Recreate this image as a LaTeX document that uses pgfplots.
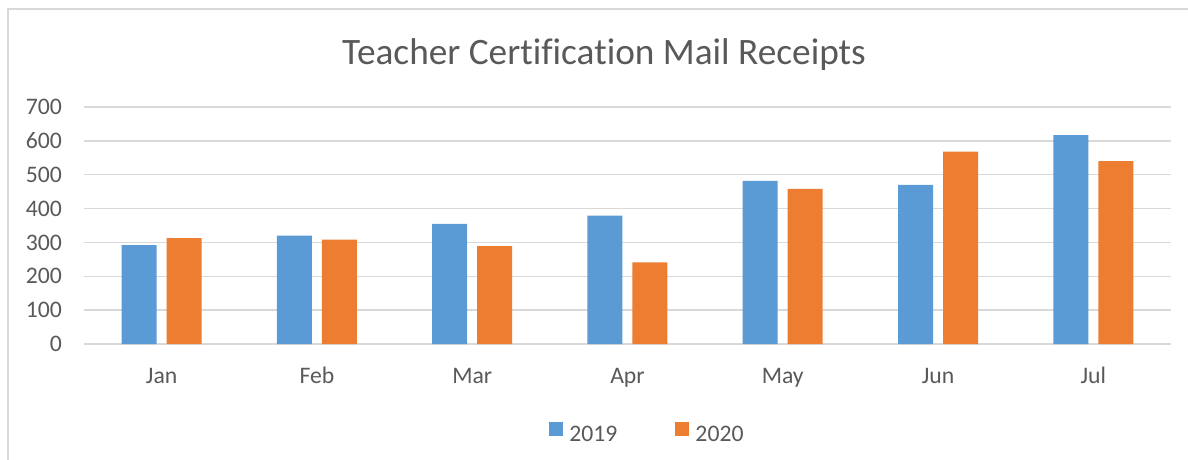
\documentclass[border=0pt]{standalone}
\usepackage{fontspec}
\setmainfont{Carlito}[Ligatures={NoCommon}]
\usepackage{pgfplots}
\pgfplotsset{compat=1.18}
\definecolor{cblue}{HTML}{5B9BD5}
\definecolor{corange}{HTML}{ED7D31}
\definecolor{cgrid}{HTML}{D9D9D9}
\definecolor{ctext}{HTML}{595959}
\begin{document}
\begin{tikzpicture}[x=1pt,y=1pt]
\useasboundingbox (0,0) rectangle (1188,-460);
\draw[cgrid, line width=1.2pt] (8,-460) -- (8,-9) -- (1188,-9);
\node[anchor=base, text=ctext, font=\fontsize{37.3}{44}\selectfont, inner sep=0pt] at (604,-64) {Teacher Certification Mail Receipts};
\begin{axis}[
  at={(84pt,-344pt)}, anchor=south west,
  width=1087pt, height=237pt, scale only axis,
  xmin=-0.5, xmax=6.5, ymin=0, ymax=700,
  ybar, bar width=35pt,
  xtick={0,1,2,3,4,5,6},
  xticklabels={Jan,Feb,Mar,Apr,May,Jun,Jul},
  ytick={0,100,...,700},
  ymajorgrids, grid style={cgrid, line width=1.3pt},
  axis line style={draw=none},
  major tick length=0pt,
  /pgf/number format/assume math mode=true,
  tick label style={font=\fontsize{23.7}{28}\selectfont, text=ctext, inner sep=0pt},
  yticklabel style={anchor=east, xshift=-22pt},
  xticklabel style={anchor=base, yshift=-39pt},
  legend columns=2,
  legend style={draw=none, fill=none, at={(axis description cs:0.5175,-0.373)}, anchor=center,
    font=\fontsize{23.7}{28}\selectfont, text=ctext,
    nodes={inner sep=0pt},
    /tikz/every odd column/.append style={column sep=6pt},
    /tikz/every even column/.append style={column sep=58pt}},
  legend image code/.code={\fill[#1] (0pt,-1pt) rectangle (14pt,13pt);},
]
\addplot[fill=cblue, draw=none, bar shift=-22.5pt] coordinates {(0,292) (1,320) (2,355) (3,379) (4,482) (5,470) (6,617)};
\addplot[fill=corange, draw=none, bar shift=22.5pt] coordinates {(0,313) (1,308) (2,289) (3,241) (4,458) (5,568) (6,540)};
\legend{2019,2020}
\end{axis}
\end{tikzpicture}
\end{document}
